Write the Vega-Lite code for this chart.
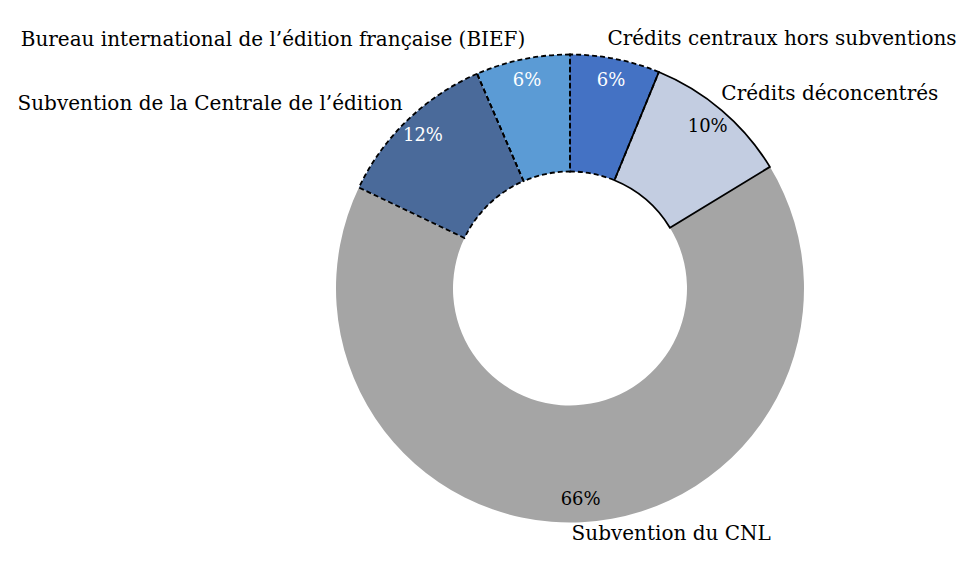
{
  "$schema": "https://vega.github.io/schema/vega-lite/v6.json",
  "width": 800,
  "height": 577,
  "autosize": {"type": "none"},
  "padding": {"left": 170, "top": 0, "right": 0, "bottom": 0},
  "background": "white",
  "config": {"view": {"stroke": null}, "text": {"font": "DejaVu Serif"}},
  "data": {
    "values": [
      {"i": 1, "cat": "Crédits centraux hors subventions", "v": 6.2, "label": "6%"},
      {"i": 2, "cat": "Crédits déconcentrés", "v": 10.1, "label": "10%"},
      {"i": 3, "cat": "Subvention du CNL", "v": 65.8, "label": "66%"},
      {"i": 4, "cat": "Subvention de la Centrale de l’édition", "v": 11.4, "label": "12%"},
      {"i": 5, "cat": "Bureau international de l’édition française (BIEF)", "v": 6.5, "label": "6%"}
    ]
  },
  "encoding": {
    "theta": {"field": "v", "type": "quantitative", "stack": true},
    "order": {"field": "i", "type": "quantitative"}
  },
  "layer": [
    {
      "mark": {"type": "arc", "outerRadius": 234, "innerRadius": 117, "strokeWidth": 0},
      "encoding": {
        "color": {
          "field": "cat", "type": "nominal", "legend": null,
          "scale": {
            "domain": ["Crédits centraux hors subventions", "Crédits déconcentrés", "Subvention du CNL", "Subvention de la Centrale de l’édition", "Bureau international de l’édition française (BIEF)"],
            "range": ["#4472C4", "#C3CDE1", "#A5A5A5", "#4A6A9A", "#5B9BD5"]
          }
        }
      }
    },
    {
      "mark": {"type": "arc", "outerRadius": 234, "innerRadius": 117, "fillOpacity": 0, "stroke": "black", "strokeWidth": 1.8, "strokeDash": [5, 3]},
      "encoding": {
        "strokeOpacity": {
          "condition": {"test": "datum.i === 1 || datum.i === 4 || datum.i === 5", "value": 1},
          "value": 0
        }
      }
    },
    {
      "mark": {"type": "arc", "outerRadius": 234, "innerRadius": 117, "fillOpacity": 0, "stroke": "black", "strokeWidth": 1.8},
      "encoding": {
        "strokeOpacity": {
          "condition": {"test": "datum.i === 2", "value": 1},
          "value": 0
        }
      }
    },
    {
      "mark": {"type": "text", "radius": 212, "fontSize": 18},
      "encoding": {
        "text": {"field": "label"},
        "color": {
          "condition": {"test": "datum.i === 2 || datum.i === 3", "value": "black"},
          "value": "white"
        }
      }
    },
    {
      "mark": {"type": "text", "radius": 250, "fontSize": 20, "align": "left", "dx": -11, "dy": -4, "color": "black"},
      "encoding": {
        "text": {"condition": {"test": "datum.i <= 3", "field": "cat"}, "value": ""}
      }
    },
    {
      "mark": {"type": "text", "radius": 250, "fontSize": 20, "align": "right", "dx": 6, "dy": -4, "color": "black"},
      "encoding": {
        "text": {"condition": {"test": "datum.i >= 4", "field": "cat"}, "value": ""}
      }
    }
  ]
}
